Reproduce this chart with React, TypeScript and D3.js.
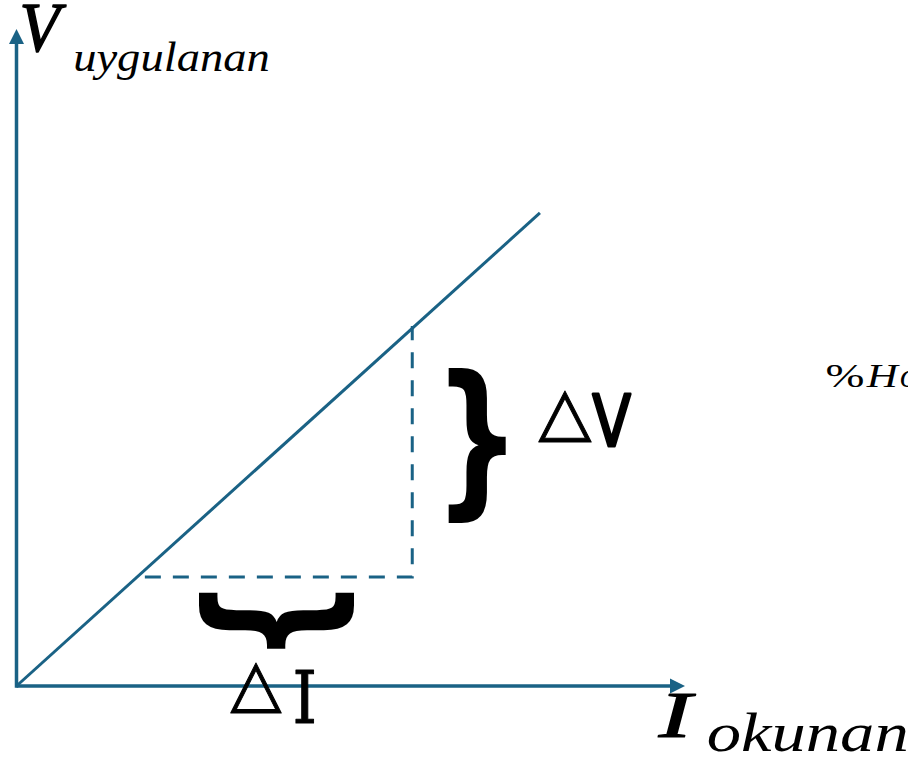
import React, { useMemo } from "react";
import * as d3 from "d3";

// ---- data (axis units) ----
const AXIS_MAX_I = 10;
const AXIS_MAX_V = 10;
const lineI = [0, 7.83];
const lineV = [0, 7.2];
const deltaIRange = [1.92, 5.92];
const deltaVRange = [1.66, 5.48];

const W = 908;
const H = 758;
const AXIS_COLOR = "#1a6285";

type Box = [number, number, number, number];

function measureInk(text: string, font: string) {
  const c = document.createElement("canvas");
  const ctx = c.getContext("2d")!;
  ctx.font = font;
  const m = ctx.measureText(text);
  return {
    left: -m.actualBoundingBoxLeft,
    right: m.actualBoundingBoxRight,
    top: -m.actualBoundingBoxAscent,
    bottom: m.actualBoundingBoxDescent,
  };
}

function FitGlyph(props: {
  text: string;
  family: string;
  box: Box;
  italic?: boolean;
  weight?: string;
  rotate?: number;
  fill?: string;
  extra?: number;
}) {
  const { text, family, box, italic, weight = "normal", rotate = 0, fill = "#000", extra = 0 } = props;
  const style = italic ? "italic" : "normal";
  const ink = useMemo(
    () => measureInk(text, `${style} ${weight} 100px "${family}"`),
    [text, family, style, weight]
  );
  const [x0, y0, x1, y1] = box;
  const iw = ink.right - ink.left;
  const ih = ink.bottom - ink.top;
  let transform: string;
  let sx: number, sy: number;
  if (rotate === 90) {
    sx = (y1 - y0) / iw;
    sy = (x1 - x0) / ih;
    const cx = (x0 + x1) / 2;
    const cy = (y0 + y1) / 2;
    const icx = (ink.left + ink.right) / 2;
    const icy = (ink.top + ink.bottom) / 2;
    transform = `translate(${cx},${cy}) rotate(90) scale(${sx},${sy}) translate(${-icx},${-icy})`;
  } else {
    // shrink target by the extra stroke so the outer ink still fits the box
    const e = extra / 2;
    sx = (x1 - x0 - 2 * e) / iw;
    sy = (y1 - y0 - 2 * e) / ih;
    transform = `translate(${x0 + e},${y0 + e}) scale(${sx},${sy}) translate(${-ink.left},${-ink.top})`;
  }
  const avg = Math.sqrt(Math.abs(sx * sy));
  return (
    <text
      x={0}
      y={0}
      fontFamily={family}
      fontSize={100}
      fontStyle={style}
      fontWeight={weight}
      fill={fill}
      stroke={extra > 0 ? fill : "none"}
      strokeWidth={extra > 0 ? extra / avg : 0}
      strokeLinejoin="round"
      transform={transform}
    >
      {text}
    </text>
  );
}

export default function App() {
  const x = d3.scaleLinear().domain([0, AXIS_MAX_I]).range([16.5, 685]);
  const y = d3.scaleLinear().domain([0, AXIS_MAX_V]).range([686, 29]);

  const headLen = 15;
  const headHalf = 7.5;

  const linePath = d3.line<number>()
    .x((_, i) => x(lineI[i]))
    .y((_, i) => y(lineV[i]))(lineI) as string;

  const dashPts: [number, number][] = [
    [deltaIRange[0], deltaVRange[0]],
    [deltaIRange[1], deltaVRange[0]],
    [deltaIRange[1], deltaVRange[1]],
  ];
  const dashPath = d3.line<[number, number]>()
    .x((d) => x(d[0]))
    .y((d) => y(d[1]))(dashPts) as string;

  const ox = x(0);
  const oy = y(0);
  const xTip = x(AXIS_MAX_I);
  const yTip = y(AXIS_MAX_V);

  return (
    <svg
      width={W}
      height={H}
      style={{ position: "absolute", left: 0, top: 0, display: "block", background: "#fff" }}
    >
      <rect x={0} y={0} width={W} height={H} fill="#fff" />
      {/* axes */}
      <line x1={ox} y1={oy} x2={xTip - headLen + 1} y2={oy} stroke={AXIS_COLOR} strokeWidth={3.5} />
      <line x1={ox} y1={oy + 1.75} x2={ox} y2={yTip + headLen - 1} stroke={AXIS_COLOR} strokeWidth={3.5} />
      <path
        d={`M${xTip},${oy} L${xTip - headLen},${oy - headHalf} L${xTip - headLen},${oy + headHalf} Z`}
        fill={AXIS_COLOR}
      />
      <path
        d={`M${ox},${yTip} L${ox - headHalf},${yTip + headLen} L${ox + headHalf},${yTip + headLen} Z`}
        fill={AXIS_COLOR}
      />
      {/* characteristic line */}
      <path d={linePath} fill="none" stroke={AXIS_COLOR} strokeWidth={3} />
      {/* dashed delta guides */}
      <path d={dashPath} fill="none" stroke={AXIS_COLOR} strokeWidth={3} strokeDasharray="16 12" />

      {/* braces */}
      <FitGlyph text="}" family="DejaVu Sans" weight="bold" box={[448, 368, 506, 523]} />
      <FitGlyph text="}" family="DejaVu Sans" weight="bold" box={[199, 592, 353, 649]} rotate={90} />

      {/* delta labels */}
      <FitGlyph text="△" family="DejaVu Sans" box={[538, 390, 592, 443]} extra={1} />
      <FitGlyph text="V" family="DejaVu Sans" box={[591, 393, 632, 447]} extra={2.5} />
      <FitGlyph text="△" family="DejaVu Sans" box={[230, 662, 282, 714]} extra={1} />
      <FitGlyph text="I" family="DejaVu Serif" box={[295, 669, 314, 723]} extra={1} />

      {/* axis titles */}
      <FitGlyph text="V" family="Liberation Serif" italic box={[22, 5, 67, 53]} extra={1.5} />
      <FitGlyph text="uygulanan" family="Liberation Serif" italic box={[75, 42, 268, 80]} />
      <FitGlyph text="I" family="Liberation Serif" italic box={[657, 693, 697, 738]} extra={1.5} />
      <FitGlyph text="okunan" family="Liberation Serif" italic box={[708, 713, 906, 752]} />

      {/* clipped formula fragment */}
      <FitGlyph text="%" family="Liberation Serif" box={[827, 365, 863, 388]} />
      <FitGlyph text="H" family="Liberation Serif" italic box={[866, 365, 900, 387]} />
      <text x={900} y={387} fontFamily="Liberation Serif" fontStyle="italic" fontSize={33}>
        o
      </text>
    </svg>
  );
}
